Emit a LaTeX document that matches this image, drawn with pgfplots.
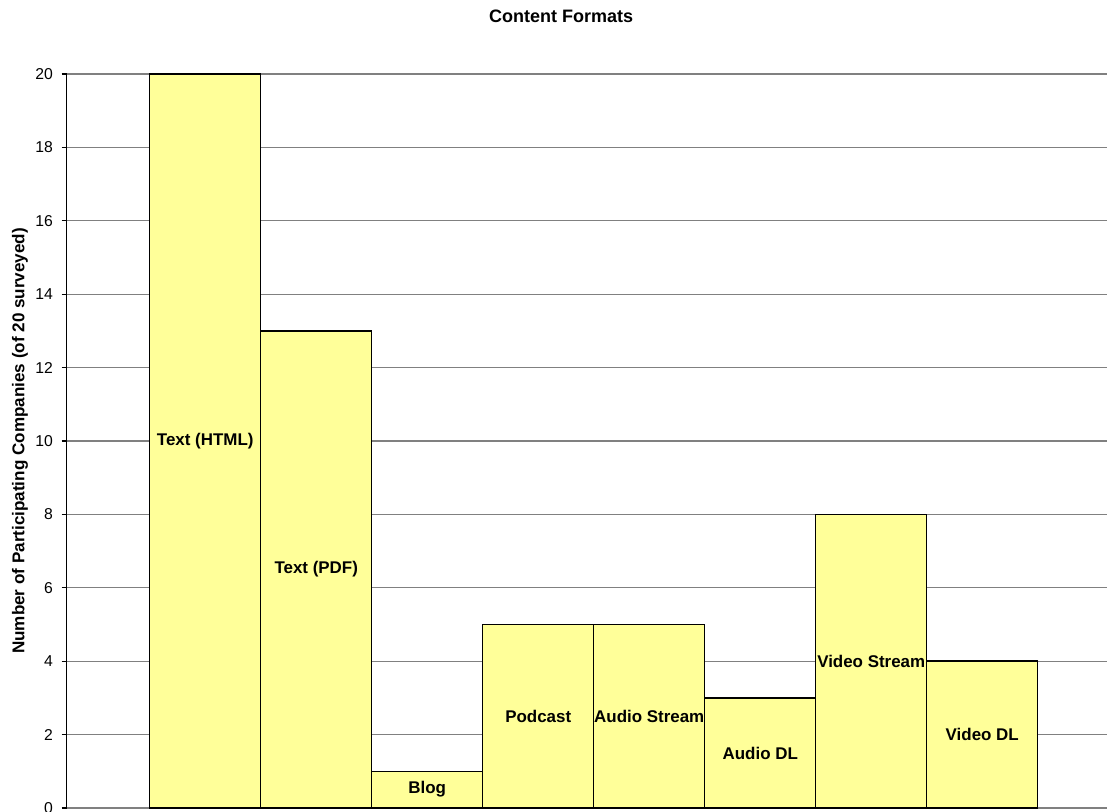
\documentclass[border=0pt]{standalone}
\usepackage{pgfplots}
\pgfplotsset{compat=1.18}
\usepackage{fontspec}
\setmainfont{Liberation Sans}
\definecolor{barfill}{RGB}{255,255,153}
\definecolor{gridgray}{RGB}{128,128,128}
\begin{document}
\begin{tikzpicture}
\begin{axis}[
  at={(0pt,0pt)}, anchor=south west,
  scale only axis,
  width=790.875pt, height=550.5pt,
  xmin=-1.25, xmax=8.25,
  ymin=0, ymax=20,
  ytick={0,2,...,20},
  xtick=\empty,
  axis y line=left,
  axis x line=none,
  axis line style={-, line width=0.9pt, black},
  ymajorgrids,
  major grid style={gridgray, line width=0.9pt},
  tick style={black, line width=0.8pt},
  major tick length=3.75pt,
  ytick align=outside,
  /pgf/number format/assume math mode=true,
  yticklabel style={font=\fontsize{11.8}{13}\selectfont, xshift=-3pt},
  ylabel={Number of Participating Companies (of 20 surveyed)},
  ylabel style={at={(axis description cs:-0.044,0.5)}, anchor=center,
    font=\fontsize{12.8}{14}\selectfont\bfseries},
  title={Content Formats},
  title style={at={(rel axis cs:0.469,1)}, anchor=center, yshift=37.5pt,
    font=\fontsize{13.5}{15}\selectfont\bfseries},
  ybar, bar width=1,
  clip=false,
]
\addplot[fill=barfill, draw=black, line width=1.1pt]
  coordinates {(0,20) (1,13) (2,1) (3,5) (4,5) (5,3) (6,8) (7,4)};
\begin{scope}[every node/.style={font=\fontsize{12.7}{14}\selectfont\bfseries, anchor=center}]
\node at (axis cs:0,10)   {Text (HTML)};
\node at (axis cs:1,6.5)  {Text (PDF)};
\node at (axis cs:2,0.5)  {Blog};
\node at (axis cs:3,2.5)  {Podcast};
\node at (axis cs:4,2.5)  {Audio Stream};
\node at (axis cs:5,1.5)  {Audio DL};
\node at (axis cs:6,4)    {Video Stream};
\node at (axis cs:7,2)    {Video DL};
\end{scope}
\end{axis}
\pgfresetboundingbox
\useasboundingbox (-49.875pt,-2.25pt) rectangle (780.375pt,606pt);
\end{tikzpicture}
\end{document}
